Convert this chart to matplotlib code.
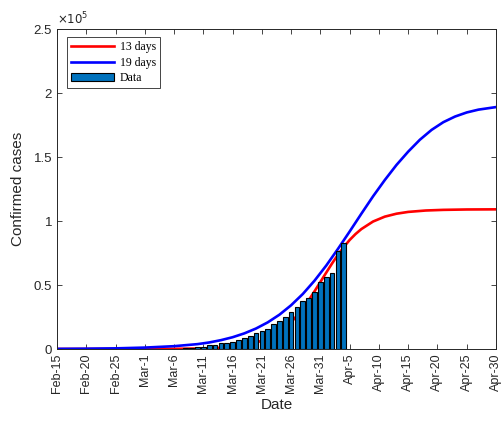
import matplotlib
matplotlib.use("Agg")
import matplotlib.pyplot as plt
from matplotlib.ticker import FuncFormatter
import numpy as np

# x-axis: days since Feb-15 (2020)
xtick_days = [0, 5, 10, 15, 20, 25, 30, 35, 40, 45, 50, 55, 60, 65, 70, 75]
xtick_labels = ["Feb-15", "Feb-20", "Feb-25", "Mar-1", "Mar-6", "Mar-11", "Mar-16",
                "Mar-21", "Mar-26", "Mar-31", "Apr-5", "Apr-10", "Apr-15", "Apr-20",
                "Apr-25", "Apr-30"]

# observed confirmed cases (thousands), Mar-8 .. Apr-4
data_days = list(range(22, 50))
data_k = [0.5, 0.8, 1.3, 1.9, 2.9, 3.4, 4.4, 4.9, 5.8, 7.0, 8.5, 10.5, 12.2, 14.3,
          15.8, 19.3, 22.1, 24.8, 28.9, 32.6, 37.2, 39.6, 44.3, 52.1, 56.5, 59.1,
          76.3, 83.0]

# model curve "13 days" (thousands)
red_days = [0, 10, 20, 25, 28, 30, 32, 34, 36, 38, 39, 40, 41, 42, 43, 44, 45, 46,
            47, 48, 49, 50, 51, 52, 54, 56, 58, 60, 63, 66, 70, 75]
red_k = [0.0, 0.01, 0.12, 0.45, 1.0, 1.7, 2.9, 4.9, 8.2, 13.4, 16.9, 21.0, 26.0,
         31.7, 38.1, 45.1, 52.4, 59.7, 66.9, 73.6, 79.7, 85.2, 89.8, 93.7, 99.6,
         103.4, 105.7, 107.1, 108.2, 108.7, 109.0, 109.1]

# model curve "19 days" (thousands)
blue_days = [0, 5, 10, 15, 20, 24, 26, 28, 30, 32, 34, 36, 38, 40, 42, 44, 46, 48,
             50, 52, 54, 56, 58, 60, 62, 64, 66, 68, 70, 72, 75]
blue_k = [0.1, 0.25, 0.5, 1.1, 2.2, 3.8, 5.1, 6.9, 9.2, 12.2, 16.0, 20.8, 26.8,
          34.2, 43.0, 53.4, 65.2, 78.2, 91.8, 105.7, 119.3, 132.0, 143.8, 154.2,
          163.5, 171.2, 177.2, 181.6, 184.8, 187.0, 189.0]

ytick_vals = [0, 50000, 100000, 150000, 200000, 250000]

plt.rcParams["font.family"] = ["Liberation Sans", "DejaVu Sans"]
axcol = "#262626"

fig = plt.figure(figsize=(5.02, 4.21), dpi=100)
ax = fig.add_axes([57 / 502, 1 - 349 / 421, 439 / 502, 320 / 421])

l1, = ax.plot(red_days, np.array(red_k) * 1000, color="#ff0000", lw=1.9, zorder=2,
              label="13 days")
l2, = ax.plot(blue_days, np.array(blue_k) * 1000, color="#0000ff", lw=1.9, zorder=2,
              label="19 days")
b = ax.bar(data_days, np.array(data_k) * 1000, width=0.8, color="#0072BD",
           edgecolor="black", linewidth=0.8, zorder=3, label="Data")

ax.set_xlim(0, 75)
ax.set_ylim(0, 250000)
ax.set_xticks(xtick_days)
ax.set_xticklabels(xtick_labels, rotation=90, fontsize=9, color=axcol)
ax.set_yticks(ytick_vals)
ax.yaxis.set_major_formatter(FuncFormatter(lambda v, p: "%g" % (v / 1e5)))
ax.tick_params(axis="y", labelsize=9.5, labelcolor=axcol)
ax.tick_params(direction="in", length=3.5, width=0.6, colors=axcol,
               top=True, right=True)
for s in ax.spines.values():
    s.set_color(axcol)
    s.set_linewidth(0.7)

ax.text(0.0, 1.005, r"$\times10^{5}$", transform=ax.transAxes, fontsize=8.5,
        color=axcol, ha="left", va="bottom")

ax.set_xlabel("Date", fontsize=11, color=axcol, labelpad=3)
ax.set_ylabel("Confirmed cases", fontsize=11, color=axcol, labelpad=6)

leg = ax.legend(handles=[l1, l2, b], loc="upper left",
                bbox_to_anchor=(0.023, 0.975), borderaxespad=0,
                prop={"family": "Liberation Serif", "size": 8.5},
                handlelength=3.6, handletextpad=0.5, labelspacing=0.3,
                borderpad=0.35, fancybox=False, framealpha=1,
                edgecolor=axcol)
leg.get_frame().set_linewidth(0.6)

fig.savefig("out.png", dpi=100)
